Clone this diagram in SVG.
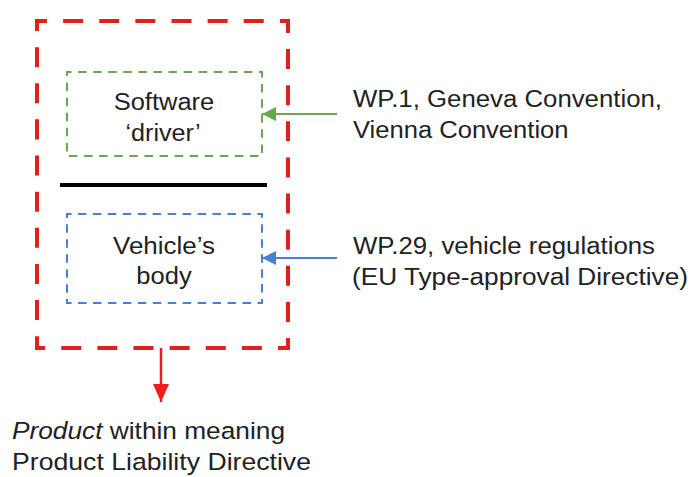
<svg xmlns="http://www.w3.org/2000/svg" width="697" height="477" viewBox="0 0 697 477">
  <style>
    .t { font-family: "Liberation Sans", Arial, sans-serif; font-size: 23.5px; fill: #222; }
    .tb { font-family: "Liberation Sans", Arial, sans-serif; font-size: 24.5px; fill: #222; }
    .mid { text-anchor: middle; }
    .red { fill: none; stroke: #e01f1f; stroke-width: 4; stroke-dasharray: 20 16.125; stroke-dashoffset: 10; }
    .grn { fill: none; stroke: #6aa84f; stroke-width: 2; }
    .blu { fill: none; stroke: #4a7fd6; stroke-width: 2; }
  </style>
  <defs>
    <marker id="ahG" markerUnits="userSpaceOnUse" markerWidth="16" markerHeight="14" refX="14" refY="7" orient="auto">
      <path d="M0,0 L14,7 L0,14 Z" fill="#6aa84f"/>
    </marker>
    <marker id="ahB" markerUnits="userSpaceOnUse" markerWidth="16" markerHeight="14" refX="14" refY="7" orient="auto">
      <path d="M0,0 L14,7 L0,14 Z" fill="#4a7fd6"/>
    </marker>
    <marker id="ahR" markerUnits="userSpaceOnUse" markerWidth="20" markerHeight="16" refX="18" refY="8" orient="auto">
      <path d="M0,0 L18,8 L0,16 Z" fill="#ee1c1c"/>
    </marker>
  </defs>
  <rect width="697" height="477" fill="#ffffff"/>

  <g id="product">
    <rect class="red" x="37" y="21" width="251" height="327"/>
  </g>

  <g id="software">
    <rect class="grn" x="67" y="72" width="195" height="84" stroke-dasharray="8.5 6.58" stroke-dashoffset="4"/>
    <text class="t mid" x="164" y="110" textLength="100.6" lengthAdjust="spacingAndGlyphs">Software</text>
    <text class="t mid" x="163" y="141" textLength="75" lengthAdjust="spacingAndGlyphs">‘driver’</text>
  </g>

  <g id="divider">
    <line x1="60" y1="185" x2="267" y2="185" stroke="#000" stroke-width="4"/>
  </g>

  <g id="body">
    <rect class="blu" x="67" y="214" width="195" height="89" stroke-dasharray="8.5 6.45" stroke-dashoffset="4"/>
    <text class="t mid" x="164" y="254" textLength="102" lengthAdjust="spacingAndGlyphs">Vehicle’s</text>
    <text class="t mid" x="164" y="284" textLength="55.3" lengthAdjust="spacingAndGlyphs">body</text>
  </g>

  <g id="wp1">
    <text class="t" x="353" y="107" textLength="309" lengthAdjust="spacingAndGlyphs">WP.1, Geneva Convention,</text>
    <text class="t" x="353" y="138" textLength="215.5" lengthAdjust="spacingAndGlyphs">Vienna Convention</text>
  </g>

  <g id="wp29">
    <text class="t" x="353" y="254" textLength="302" lengthAdjust="spacingAndGlyphs">WP.29, vehicle regulations</text>
    <text class="t" x="352" y="285" textLength="336" lengthAdjust="spacingAndGlyphs">(EU Type-approval Directive)</text>
  </g>

  <g id="pld">
    <text class="tb" x="12" y="439" textLength="273" lengthAdjust="spacingAndGlyphs"><tspan font-style="italic">Product</tspan> within meaning</text>
    <text class="tb" x="12" y="470" textLength="299" lengthAdjust="spacingAndGlyphs">Product Liability Directive</text>
  </g>

  <g id="connectors">
    <line x1="337" y1="114" x2="262" y2="114" stroke="#6aa84f" stroke-width="2.2" marker-end="url(#ahG)"/>
    <line x1="337" y1="258" x2="262" y2="258" stroke="#4a7fd6" stroke-width="2.2" marker-end="url(#ahB)"/>
    <line x1="161" y1="348" x2="161" y2="402" stroke="#ee1c1c" stroke-width="2.5" marker-end="url(#ahR)"/>
  </g>
</svg>
